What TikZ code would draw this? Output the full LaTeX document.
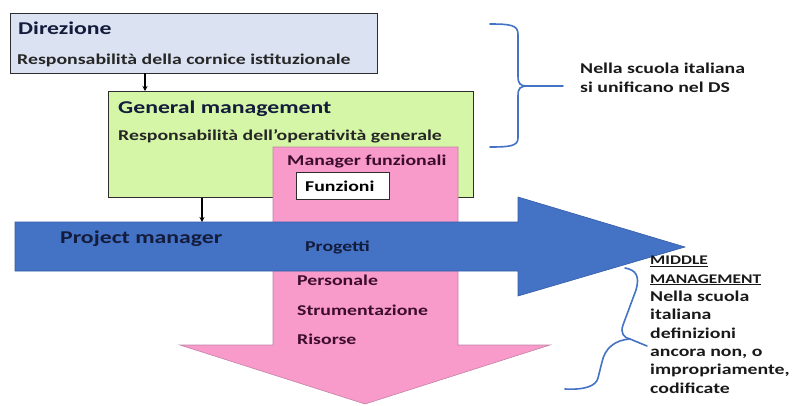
\documentclass[tikz,border=0pt]{standalone}
\usepackage{fontspec}
\setmainfont{Carlito}[FakeStretch=1.32]
\usetikzlibrary{arrows.meta}
\definecolor{dircolor}{RGB}{219,227,242}
\definecolor{gmcolor}{RGB}{212,246,166}
\definecolor{pinkcolor}{RGB}{248,154,202}
\definecolor{pinkedge}{RGB}{196,130,168}
\definecolor{pmcolor}{RGB}{68,114,196}
\definecolor{pmedge}{RGB}{52,92,170}
\definecolor{edgegray}{RGB}{45,45,45}
\definecolor{textnavy}{RGB}{20,28,60}
\definecolor{textplum}{RGB}{60,12,45}
\newcommand{\boxline}{1.1pt}
\newcommand{\bracecolor}{pmcolor}
\newcommand{\smallcaption}[1]{{\fontsize{13.2}{18.3}\selectfont\bfseries\underline{#1}}}

\tikzset{
  frame/.style={draw=edgegray, line width=\boxline, anchor=north west, inner sep=0pt},
  title/.style={anchor=base west, font=\fontsize{18}{20}\selectfont\bfseries, text=textnavy, inner sep=0pt},
  label/.style={anchor=base west, font=\fontsize{15}{17}\selectfont\bfseries, text=black!85, inner sep=0pt},
  side/.style={label, align=left, font=\fontsize{15}{18.3}\selectfont\bfseries, text=black!90},
  pinktext/.style={label, text=textplum},
  brace/.style={draw=\bracecolor, line width=1.6pt, line cap=round},
  down/.style={-{Stealth[length=5pt,width=5pt]}, line width=1.2pt, black}
}

\begin{document}
\begin{tikzpicture}[x=1pt,y=-1pt]
\useasboundingbox (0,0) rectangle (792,405);
%boxes
\node[frame, fill=dircolor, minimum width=367pt, minimum height=60pt] (dir) at (10,13) {};
\node[frame, fill=gmcolor, minimum width=365pt, minimum height=106pt] (gm) at (108,91) {};
%pink arrow
\fill[pinkcolor, draw=pinkedge, line width=0.6pt] (273,147) -- (458,147) -- (458,345) -- (550,345) -- (365,404) -- (180,345) -- (273,345) -- cycle;
\node[frame, fill=white, line width=0.9pt, minimum width=93pt, minimum height=27pt] (fun) at (296,172) {};
%blue arrow
\fill[pmcolor, draw=pmedge, line width=0.6pt] (15,222) -- (518,222) -- (518,197) -- (685,247) -- (518,296) -- (518,271) -- (15,271) -- cycle;
%texts
\node[title] (dirt) at (18,34) {Direzione};
\node[label] (dirr) at (17,64) {Responsabilità della cornice istituzionale};
\node[title] (gmt) at (118,113) {General management};
\node[label] (gmr) at (118,140) {Responsabilità dell’operatività generale};
\node[pinktext] (mft) at (287,165) {Manager funzionali};
\node[label, text=black] (funt) at (305,191) {Funzioni};
\node[title, text=textnavy] (pmt) at (60,243) {Project manager};
\node[label, text=textnavy] (prog) at (305,251) {Progetti};
\node[pinktext] (pers) at (297,285) {Personale};
\node[pinktext] (strum) at (297,315) {Strumentazione};
\node[pinktext] (ris) at (297,344) {Risorse};
\node[side, font=\fontsize{15}{19}\selectfont\bfseries] (ds) at (580,92) {Nella scuola italiana\\si unificano nel DS};
\node[side] (mm) at (650,393)
  {\smallcaption{MIDDLE}\\\smallcaption{MANAGEMENT}\\Nella scuola\\italiana\\definizioni\\ancora non, o\\impropriamente,\\codificate};
%connectors
\coordinate (a1) at (145,73);
\coordinate (a2) at (202,198);
\draw[down] (a1) -- (a1 |- gm.north);
\draw[down] (a2) -- (202,222);
%braces
\draw[brace] (490,24) .. controls (510,24) and (518,25) .. (518,34) -- (518,76) .. controls (518,84) and (520,86) .. (528,86) -- (563,86);
\draw[brace] (528,86) .. controls (520,86) and (518,88) .. (518,96) -- (518,138) .. controls (518,146) and (510,147) .. (490,147);
\draw[brace] (625,268) .. controls (636,270) and (640,276) .. (636,290) -- (623,325) .. controls (620,333) and (624,338) .. (630,339) -- (647,346);
\draw[brace] (630,339) .. controls (615,340) and (605,348) .. (602,362) -- (598,378) .. controls (596,386) and (585,390) .. (565,389);
\end{tikzpicture}
\end{document}
